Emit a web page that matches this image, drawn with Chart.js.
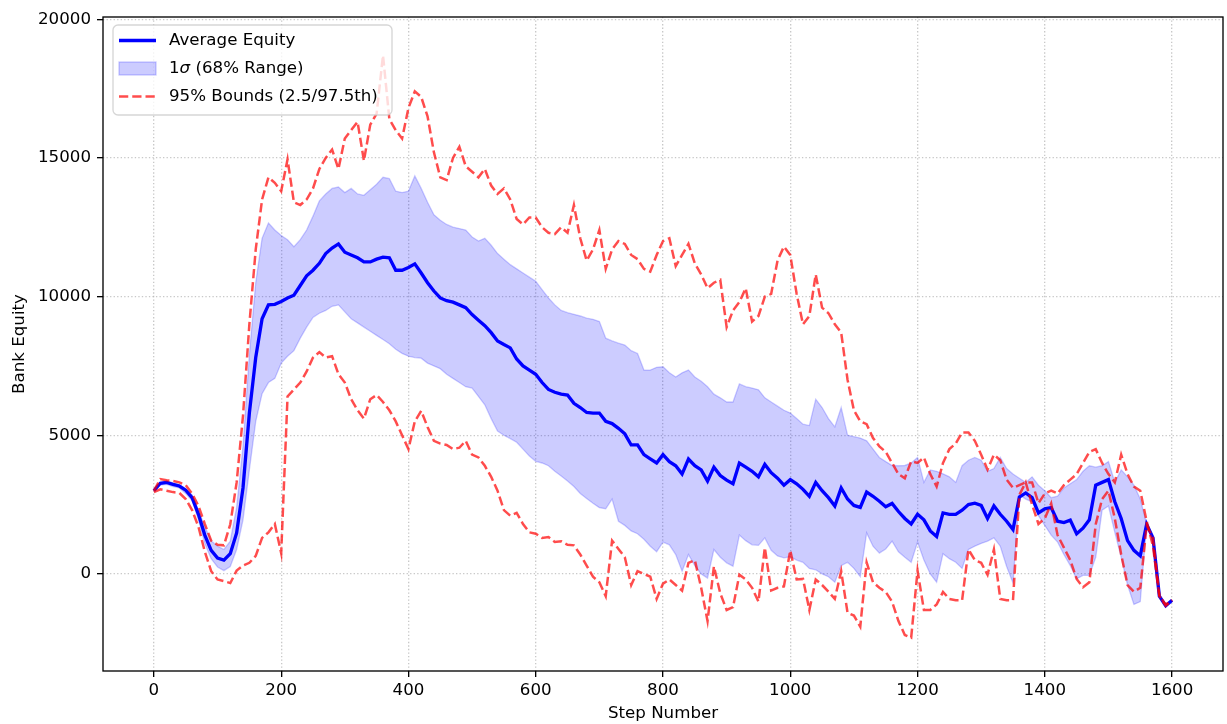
<!DOCTYPE html>
<html>
<head>
<meta charset="utf-8">
<script src="https://cdn.jsdelivr.net/npm/chart.js@4.4.1/dist/chart.umd.min.js"></script>
<style>
  html, body { margin: 0; padding: 0; background: #fff; }
  #wrap { width: 1227px; height: 724px; }
</style>
</head>
<body>
<div id="wrap"><canvas id="myChart" width="1227" height="724"></canvas></div>
<script>
// step numbers (x categories)
const steps = [0,10,20,30,40,50,60,70,80,90,100,110,120,130,140,150,160,170,180,190,
  200,210,220,230,240,250,260,270,280,290,300,310,320,330,340,350,360,370,380,390,
  400,410,420,430,440,450,460,470,480,490,500,510,520,530,540,550,560,570,580,590,
  600,610,620,630,640,650,660,670,680,690,700,710,720,730,740,750,760,770,780,790,
  800,810,820,830,840,850,860,870,880,890,900,910,920,930,940,950,960,970,980,990,
  1000,1010,1020,1030,1040,1050,1060,1070,1080,1090,1100,1110,1120,1130,1140,1150,1160,1170,1180,1190,
  1200,1210,1220,1230,1240,1250,1260,1270,1280,1290,1300,1310,1320,1330,1340,1350,1360,1370,1380,1390,
  1400,1410,1420,1430,1440,1450,1460,1470,1480,1490,1500,1510,1520,1530,1540,1550,1560,1570,1580,1590,1600];

const meanEquity = [3000,3270,3300,3230,3170,3020,2750,2150,1400,850,570,500,730,1480,3100,5800,7800,9200,9700,9720,
  9820,9950,10050,10400,10750,10950,11200,11550,11750,11900,11600,11500,11400,11250,11250,11350,11420,11400,10950,10950,
  11050,11180,10850,10500,10200,9950,9850,9800,9700,9600,9350,9150,8950,8700,8400,8270,8150,7750,7500,7350,
  7200,6900,6650,6550,6480,6450,6150,6000,5820,5800,5800,5500,5420,5250,5050,4650,4650,4300,4150,4000,
  4300,4050,3900,3600,4140,3900,3750,3350,3850,3550,3380,3250,4000,3850,3700,3500,3950,3650,3450,3200,
  3400,3250,3050,2800,3300,3000,2750,2450,3100,2700,2470,2400,2950,2800,2620,2420,2540,2250,2000,1800,
  2150,1950,1550,1350,2200,2150,2150,2300,2500,2550,2470,2000,2450,2150,1900,1600,2770,2920,2750,2200,
  2350,2390,1900,1850,1940,1450,1650,1950,3200,3300,3400,2600,2000,1200,850,650,1790,1300,-800,-1150,-950];

const sigmaUpper = [3050,3300,3350,3280,3220,3080,2850,2300,1700,1200,1000,880,1180,2400,4600,7900,10500,12100,12650,12400,
  12200,12050,11800,12050,12400,12900,13450,13700,13900,13950,13750,13900,13700,13650,13850,14050,14300,14250,13800,13750,
  13800,14350,13900,13400,12950,12750,12600,12500,12450,12400,12150,12000,12100,11850,11550,11350,11150,11000,10850,10700,
  10550,10250,9950,9700,9500,9420,9360,9300,9220,9180,9100,8500,8400,8320,8250,8050,7950,7350,7350,7450,
  7470,7250,7100,7250,7350,7100,6950,6750,6480,6350,6200,6200,6850,6750,6700,6640,6350,6200,6050,5900,
  5800,5600,5400,5350,6300,6000,5600,5300,6000,5000,4950,4900,4800,4500,4200,4050,3910,3900,3910,4000,
  4200,3300,3750,3700,3610,3500,3300,3900,4100,4200,4100,3700,3800,4200,3800,3600,3450,3300,3500,3200,
  3000,2750,2800,3100,3250,3400,3700,3900,3850,3900,4050,3300,3750,3500,3200,2700,1800,1300,-800,-1150,-950];

const sigmaLower = [2950,3200,3230,3150,3100,2900,2650,1950,1100,550,250,120,270,880,1950,3750,5500,6500,6900,7050,
  7600,7850,8050,8500,8900,9250,9400,9500,9650,9700,9450,9200,9050,8900,8750,8600,8450,8300,8100,7950,
  7850,7800,7780,7600,7500,7400,7200,7050,6900,6750,6700,6400,6100,5600,5150,5000,4880,4750,4500,4250,
  4060,4000,3900,3700,3530,3350,3150,2900,2720,2550,2390,2350,2700,1900,1750,1550,1450,1250,1000,800,
  1150,1050,700,100,700,300,0,-150,880,600,400,280,1400,1200,1050,1030,1300,850,650,580,
  620,500,420,200,150,0,-100,-300,300,420,200,-100,1480,1000,750,900,1180,800,600,420,
  1150,500,0,-300,730,550,420,200,880,1000,1100,1180,1300,1000,270,-330,2850,2700,2600,2100,
  1750,1400,1150,700,300,-180,-50,-50,600,2300,2450,1500,600,-400,-1100,-1000,1750,1300,-800,-1150,-950];

const bound975 = [3000,3420,3380,3350,3300,3200,2900,2450,1800,1200,1050,1030,1790,3300,5700,9000,11700,13500,14300,14100,
  13800,14950,13400,13300,13500,13900,14600,15000,15300,14600,15700,16000,16300,14900,16200,16600,18700,16400,16000,15700,
  16800,17400,17200,16500,15200,14300,14200,15000,15400,14700,14500,14300,14600,14000,13700,13900,13500,12800,12600,12850,
  12850,12500,12300,12250,12500,12300,13300,12100,11300,11700,12400,11000,11700,12000,11900,11500,11350,11000,10900,11500,
  12000,12100,11100,11500,11900,11200,10800,10300,10500,10600,8900,9500,9800,10300,9100,9300,10000,10100,11300,11800,
  11500,10100,9000,9300,10800,9600,9400,9000,8700,7000,5900,5500,5400,4900,4600,4400,4000,3600,3450,4060,
  4000,4200,3600,3150,4000,4500,4700,5100,5100,4800,4300,3760,4300,4100,3400,3100,3200,3300,3300,2550,
  2900,3000,2900,3200,3400,3600,4000,4400,4500,4000,3600,3300,4300,3600,3150,3000,1900,1000,-800,-1100,-950];

const bound025 = [2950,3050,3000,2950,2920,2700,2300,1700,800,100,-200,-260,-330,120,300,400,650,1300,1500,1800,
  750,6400,6650,6900,7300,7800,8000,7800,7850,7200,6900,6300,5900,5600,6300,6450,6200,5900,5500,5000,
  4500,5500,5880,5300,4800,4700,4650,4500,4550,4800,4300,4200,3900,3500,3000,2300,2100,2200,1800,1500,
  1450,1300,1330,1150,1180,1050,1030,700,300,-100,-300,-800,1200,900,600,-400,100,0,-100,-900,
  -350,-200,-400,-600,400,500,-500,-1700,270,-700,-1300,-1200,-30,-200,-500,-1000,950,-600,-500,-450,
  850,-200,-180,-1300,-200,-400,-640,-900,100,-1400,-1500,-1900,420,-300,-500,-650,-1000,-1700,-2200,-2300,
  120,-1300,-1300,-1100,-650,-900,-950,-950,880,500,400,-30,880,-900,-950,-950,2850,3300,2500,1800,
  2000,2540,1400,950,500,-180,-480,-300,1790,2700,3000,2000,700,-400,-640,-500,1750,1300,-800,-1150,-950];

const xTickValues = [0, 200, 400, 600, 800, 1000, 1200, 1400, 1600];
const yTickValues = [0, 5000, 10000, 15000, 20000];

function pts(vals) { return steps.map((s, i) => ({ x: s, y: vals[i] })); }

const FONT = 'DejaVu Sans';
const FS = 16.67;

const framePlugin = {
  id: 'frameAndLegend',
  afterDatasetsDraw(chart) {
    const { ctx, chartArea: a } = chart;
    // frame
    ctx.save();
    ctx.strokeStyle = '#000';
    ctx.lineWidth = 1.33;
    ctx.strokeRect(a.left, a.top, a.right - a.left, a.bottom - a.top);
    // legend box
    const bx = 113, by = 25, bw = 279, bh = 90, r = 5;
    ctx.beginPath();
    ctx.moveTo(bx + r, by);
    ctx.arcTo(bx + bw, by, bx + bw, by + bh, r);
    ctx.arcTo(bx + bw, by + bh, bx, by + bh, r);
    ctx.arcTo(bx, by + bh, bx, by, r);
    ctx.arcTo(bx, by, bx + bw, by, r);
    ctx.closePath();
    ctx.fillStyle = 'rgba(255,255,255,0.8)';
    ctx.fill();
    ctx.strokeStyle = 'rgba(204,204,204,0.8)';
    ctx.lineWidth = 1.33;
    ctx.stroke();

    const hx1 = 119, hx2 = 156, tx = 169;
    const rows = [40.5, 68.5, 96.5];
    // mean handle
    ctx.strokeStyle = '#0000ff';
    ctx.lineWidth = 3.33;
    ctx.beginPath(); ctx.moveTo(hx1, rows[0]); ctx.lineTo(hx2, rows[0]); ctx.stroke();
    // band handle
    ctx.fillStyle = 'rgba(0,0,255,0.2)';
    ctx.fillRect(hx1, rows[1] - 6.5, hx2 - hx1, 13);
    ctx.strokeStyle = 'rgba(0,0,255,0.2)';
    ctx.lineWidth = 1.33;
    ctx.strokeRect(hx1, rows[1] - 6.5, hx2 - hx1, 13);
    // bounds handle
    ctx.strokeStyle = 'rgba(255,0,0,0.7)';
    ctx.lineWidth = 2.5;
    ctx.setLineDash([9.25, 4]);
    ctx.beginPath(); ctx.moveTo(hx1, rows[2]); ctx.lineTo(hx2, rows[2]); ctx.stroke();
    ctx.setLineDash([]);

    ctx.fillStyle = '#000';
    ctx.textBaseline = 'middle';
    ctx.textAlign = 'left';
    ctx.font = FS + 'px "' + FONT + '"';
    ctx.fillText('Average Equity', tx, rows[0]);
    ctx.fillText('1', tx, rows[1]);
    let w = ctx.measureText('1').width;
    ctx.font = 'italic ' + FS + 'px "' + FONT + '"';
    ctx.fillText('\u03c3', tx + w, rows[1]);
    w += ctx.measureText('\u03c3').width;
    ctx.font = FS + 'px "' + FONT + '"';
    ctx.fillText(' (68% Range)', tx + w, rows[1]);
    ctx.fillText('95% Bounds (2.5/97.5th)', tx, rows[2]);
    ctx.restore();
  }
};

Chart.defaults.font.family = FONT;
Chart.defaults.font.size = FS;
Chart.defaults.color = '#000';

const ctx = document.getElementById('myChart');
new Chart(ctx, {
  type: 'line',
  data: {
    datasets: [
      {
        label: 'Average Equity',
        data: pts(meanEquity),
        borderColor: '#0000ff',
        borderWidth: 3.33,
        pointRadius: 0,
        fill: false,
        order: 1
      },
      {
        label: '1\u03c3 (68% Range)',
        data: pts(sigmaUpper),
        borderColor: 'rgba(0,0,255,0.2)',
        backgroundColor: 'rgba(0,0,255,0.2)',
        borderWidth: 1.33,
        pointRadius: 0,
        fill: '+1',
        order: 2
      },
      {
        label: 'sigma lower',
        data: pts(sigmaLower),
        borderColor: 'rgba(0,0,255,0.2)',
        borderWidth: 1.33,
        pointRadius: 0,
        fill: false,
        order: 2
      },
      {
        label: '95% Bounds (2.5/97.5th)',
        data: pts(bound975),
        borderColor: 'rgba(255,0,0,0.7)',
        borderWidth: 2.5,
        borderDash: [9.25, 4],
        pointRadius: 0,
        fill: false,
        order: 0
      },
      {
        label: 'lower bound',
        data: pts(bound025),
        borderColor: 'rgba(255,0,0,0.7)',
        borderWidth: 2.5,
        borderDash: [9.25, 4],
        pointRadius: 0,
        fill: false,
        order: 0
      }
    ]
  },
  options: {
    responsive: false,
    animation: false,
    devicePixelRatio: 1,
    layout: { padding: { left: 0, right: 4, top: 17, bottom: 0 } },
    plugins: { legend: { display: false }, tooltip: { enabled: false } },
    scales: {
      x: {
        type: 'linear',
        min: -80,
        max: 1680,
        afterBuildTicks(scale) { scale.ticks = xTickValues.map(v => ({ value: v })); },
        afterFit(scale) { scale.height = 53; },
        ticks: { padding: 4, maxRotation: 0, autoSkip: false, color: '#000', callback: v => String(v) },
        grid: { color: 'rgba(176,176,176,0.7)', lineWidth: 1.33, tickLength: 6, tickColor: '#000', tickWidth: 1.33 },
        border: { display: false, dash: [1.33, 2.2] },
        title: { display: true, text: 'Step Number', color: '#000', padding: { top: 0, bottom: 0 } }
      },
      y: {
        type: 'linear',
        min: -3500,
        max: 20080,
        afterBuildTicks(scale) { scale.ticks = yTickValues.map(v => ({ value: v })); },
        afterFit(scale) { scale.width = 103; },
        ticks: { padding: 6, autoSkip: false, color: '#000', callback: v => String(v) },
        grid: { color: 'rgba(176,176,176,0.7)', lineWidth: 1.33, tickLength: 6, tickColor: '#000', tickWidth: 1.33 },
        border: { display: false, dash: [1.33, 2.2] },
        title: { display: true, text: 'Bank Equity', color: '#000', padding: { top: 10, bottom: 0 } }
      }
    }
  },
  plugins: [framePlugin]
});
</script>
</body>
</html>
